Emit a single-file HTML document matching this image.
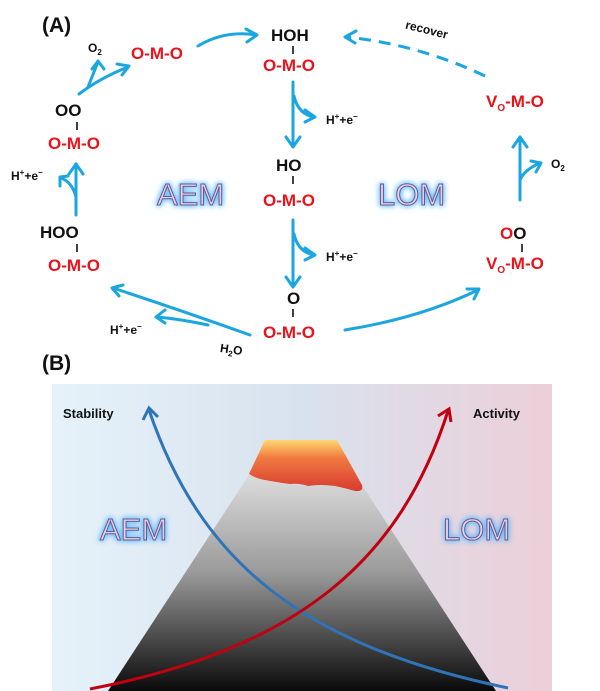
<!DOCTYPE html>
<html><head><meta charset="utf-8"><style>
html,body{margin:0;padding:0;background:#fff}
svg{display:block}
text{font-family:"Liberation Sans",sans-serif;font-weight:bold}
.r{fill:#e8131b;font-size:17px}
.k{fill:#111;font-size:17px}
.s{fill:#111;font-size:12px}
.big{font-family:"Liberation Sans",sans-serif;font-weight:normal;font-size:31px;fill:#ecd0dc;stroke:#5a5a9a;stroke-width:1;filter:url(#glow)}
.a{fill:none;stroke:#1ba6e0;stroke-width:3;stroke-linecap:round;stroke-linejoin:round}
</style></head><body>
<svg width="600" height="691" viewBox="0 0 600 691" xmlns="http://www.w3.org/2000/svg">
<defs>
<filter id="glow" x="-30%" y="-50%" width="160%" height="200%">
<feGaussianBlur in="SourceAlpha" stdDeviation="3" result="b"/>
<feFlood flood-color="#5cb6ff" flood-opacity="0.9"/>
<feComposite in2="b" operator="in" result="g"/>
<feMerge><feMergeNode in="g"/><feMergeNode in="g"/><feMergeNode in="SourceGraphic"/></feMerge>
</filter>
<linearGradient id="bg" x1="0" x2="1" y1="0" y2="0">
<stop offset="0" stop-color="#e6f2fa"/><stop offset="0.5" stop-color="#d8e2ee"/><stop offset="1" stop-color="#eccfd8"/>
</linearGradient>
<linearGradient id="mt" x1="0" x2="0" y1="0" y2="1">
<stop offset="0" stop-color="#dcdcdc"/><stop offset="0.45" stop-color="#9a9a9a"/><stop offset="1" stop-color="#0a0a0a"/>
</linearGradient>
<linearGradient id="lv" x1="0" x2="0" y1="0" y2="1">
<stop offset="0" stop-color="#ffd870"/><stop offset="0.35" stop-color="#f07a40"/><stop offset="1" stop-color="#d83a30"/>
</linearGradient>
</defs>

<text x="42" y="32" style="font-size:21px" fill="#111">(A)</text>
<text x="88" y="52" class="s">O<tspan font-size="8" dy="3">2</tspan></text>
<text x="131" y="59" class="r">O-M-O</text>
<path class="a" d="M198 46 Q225 30 256 35"/><path class="a" d="M246 29 L257 35 L247 42"/>

<text x="271" y="41" class="k">HOH</text>
<line x1="293" y1="46" x2="293" y2="54" stroke="#111" stroke-width="1.6"/>
<text x="263" y="71" class="r">O-M-O</text>
<path class="a" d="M293 82 L293 146"/><path class="a" d="M286 137 L293 147 L300 137"/>
<path class="a" d="M294 96 Q298 114 314 117"/><path class="a" d="M305 110 L315 117 L305 122"/>
<text x="326" y="124" class="s">H<tspan font-size="8" dy="-5">+</tspan><tspan dy="5">+e</tspan><tspan font-size="8" dy="-5">−</tspan></text>

<text x="276" y="171" class="k">HO</text>
<line x1="293" y1="176" x2="293" y2="184" stroke="#111" stroke-width="1.6"/>
<text x="263" y="206" class="r">O-M-O</text>
<path class="a" d="M293 220 L293 286"/><path class="a" d="M286 277 L293 287 L300 277"/>
<path class="a" d="M294 234 Q298 252 314 255"/><path class="a" d="M305 248 L315 255 L305 260"/>
<text x="326" y="261" class="s">H<tspan font-size="8" dy="-5">+</tspan><tspan dy="5">+e</tspan><tspan font-size="8" dy="-5">−</tspan></text>

<text x="287" y="304" class="k">O</text>
<line x1="293" y1="309" x2="293" y2="317" stroke="#111" stroke-width="1.6"/>
<text x="263" y="338" class="r">O-M-O</text>

<text x="55" y="116" class="k">OO</text>
<line x1="77" y1="122" x2="77" y2="130" stroke="#111" stroke-width="1.6"/>
<text x="48" y="149" class="r">O-M-O</text>
<path class="a" d="M79 94 Q100 78 128 67"/><path class="a" d="M117 64 L129 66 L122 75"/>
<path class="a" d="M88 87 Q94 72 98 62"/><path class="a" d="M92 69 L98 61 L104 69"/>

<path class="a" d="M76 215 L76 164"/><path class="a" d="M69 174 L76 164 L83 174"/>
<path class="a" d="M76 197 Q72 182 61 178"/><path class="a" d="M60 186 L60 177 L68 176"/>
<text x="11" y="180" class="s">H<tspan font-size="8" dy="-5">+</tspan><tspan dy="5">+e</tspan><tspan font-size="8" dy="-5">−</tspan></text>

<text x="40" y="238" class="k">HOO</text>
<line x1="77" y1="244" x2="77" y2="252" stroke="#111" stroke-width="1.6"/>
<text x="48" y="271" class="r">O-M-O</text>

<path class="a" d="M250 335 Q180 310 113 288"/><path class="a" d="M119 296 L112 288 L123 285"/>
<path class="a" d="M208 325 Q180 319 157 317"/><path class="a" d="M165 310 L156 317 L165 323"/>
<text x="110" y="334" class="s">H<tspan font-size="8" dy="-5">+</tspan><tspan dy="5">+e</tspan><tspan font-size="8" dy="-5">−</tspan></text>
<text x="220" y="354" class="s" transform="rotate(8 235 350)">H<tspan font-size="8" dy="3">2</tspan><tspan dy="-3">O</tspan></text>

<path d="M485 76 Q420 45 347 37" fill="none" stroke="#1ba6e0" stroke-width="3" stroke-dasharray="12 8"/>
<path class="a" d="M356 31 L345 37 L355 43"/>
<text x="405" y="34" class="s" transform="rotate(14 428 30)">recover</text>
<text x="486" y="107" class="r">V<tspan font-size="10" dy="4">O</tspan><tspan dy="-4">-M-O</tspan></text>
<path class="a" d="M520 200 L520 137"/><path class="a" d="M513 147 L520 137 L527 147"/>
<path class="a" d="M520 180 Q524 170 540 163"/><path class="a" d="M531 161 L541 163 L536 172"/>
<text x="551" y="168" class="s">O<tspan font-size="8" dy="3">2</tspan></text>
<text x="500" y="239" class="r" style="font-size:17px">O<tspan fill="#111">O</tspan></text>
<line x1="522" y1="244" x2="522" y2="252" stroke="#111" stroke-width="1.6"/>
<text x="486" y="269" class="r">V<tspan font-size="10" dy="4">O</tspan><tspan dy="-4">-M-O</tspan></text>
<path class="a" d="M345 330 Q420 318 478 290"/><path class="a" d="M467 289 L479 289 L474 299"/>

<text x="157" y="205" class="big">AEM</text>
<text x="378" y="205" class="big">LOM</text>

<text x="42" y="370" style="font-size:21px" fill="#111">(B)</text>
<rect x="52" y="384" width="500" height="307" fill="url(#bg)"/>
<polygon points="249,475 362,485 496,691 108,691" fill="url(#mt)"/>
<path d="M265 440 L337 440 L362 485 Q364 492 355 491 Q345 488 335 486 Q320 484 308 486 Q300 483 290 484 Q275 482 265 480 Q255 478 249 474 Z" fill="url(#lv)"/>
<text x="63" y="418" style="font-size:13px" fill="#111">Stability</text>
<text x="473" y="418" style="font-size:13px" fill="#111">Activity</text>
<path d="M149 410 C 200 560, 300 645, 508 688" fill="none" stroke="#2f74b8" stroke-width="3"/>
<path d="M143 420 L149 408 L158 417" fill="none" stroke="#2f74b8" stroke-width="3"/>
<path d="M90 689 C 300 648, 400 560, 448 411" fill="none" stroke="#c00010" stroke-width="3"/>
<path d="M438 416 L449 409 L451 422" fill="none" stroke="#c00010" stroke-width="3"/>
<text x="100" y="540" class="big">AEM</text>
<text x="443" y="540" class="big">LOM</text>
</svg>
</body></html>
